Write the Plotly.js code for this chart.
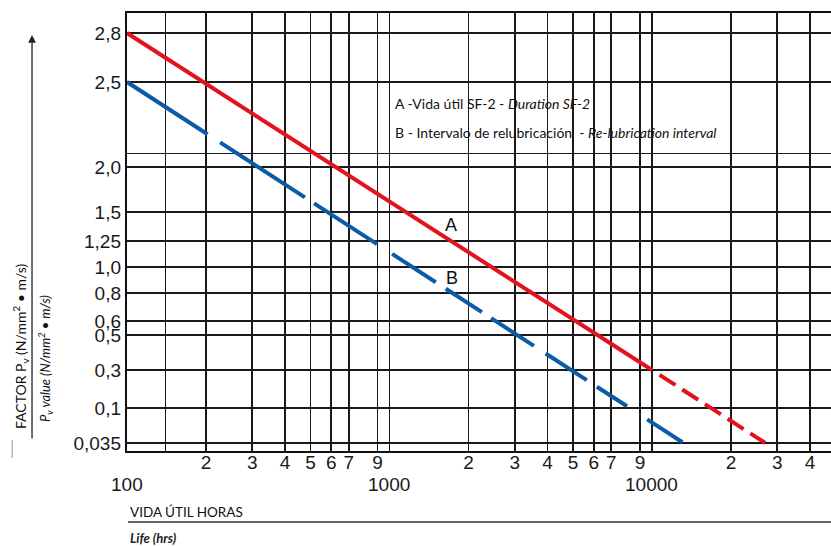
<!DOCTYPE html>
<html>
<head>
<meta charset="utf-8">
<script src="https://cdn.plot.ly/plotly-3.0.1.min.js"></script>
<style>html,body{margin:0;padding:0;background:#fff;}#chart{width:831px;height:546px;}</style>
</head>
<body>
<div id="chart"></div>
<script>
// ---------------- DATA ----------------
// Curve A: Vida útil SF-2 (solid up to 10000 h, dashed beyond)
const lifeHoursA = [100, 10000, 27000];
const pvA = [2.8, 0.3, 0.035];
// Curve B: Intervalo de relubricación
const lifeHoursB = [100, 13200];
const pvB = [2.5, 0.035];

// Y tick labels (printed non-uniform scale)
const yTickValues = [2.8, 2.5, 2.0, 1.5, 1.25, 1.0, 0.8, 0.6, 0.5, 0.3, 0.1, 0.035];
const yTickLabels = ['2,8', '2,5', '2,0', '1,5', '1,25', '1,0', '0,8', '0,6', '0,5', '0,3', '0,1', '0,035'];
const yUnlabeledGrid = [2.08];

// X ticks (log scale)
const xTickValues = [100, 140, 200, 300, 400, 500, 600, 700, 900, 1000, 2000, 3000, 4000, 5000, 6000, 7000, 9000, 10000, 20000, 30000, 40000];
const xTickLabels = ['', '', '2', '3', '4', '5', '6', '7', '9', '', '2', '3', '4', '5', '6', '7', '9', '', '2', '3', '4'];
const xDecadeValues = [100, 1000, 10000];
const xDecadeLabels = ['100', '1000', '10000'];

// ---------------- AXIS SCALE (the chart's printed, non-uniform Pv scale) ----------------
const scaleValues = [2.8, 2.5, 2.0, 1.5, 1.25, 1.0, 0.8, 0.6, 0.5, 0.3, 0.1, 0.035];
const scaleUnits  = [418, 369, 284, 239, 210, 184, 158, 130, 116, 81, 43, 8];
function yScale(v) {
  for (let i = 0; i < scaleValues.length - 1; i++) {
    const a = scaleValues[i], b = scaleValues[i + 1];
    if (v <= a && v >= b) {
      const t = (a - v) / (a - b);
      return scaleUnits[i] + t * (scaleUnits[i + 1] - scaleUnits[i]);
    }
  }
  return v > scaleValues[0] ? scaleUnits[0] : scaleUnits[scaleUnits.length - 1];
}

const RED = '#e2131c';
const BLUE = '#0c5ba6';

const traces = [
  { x: lifeHoursA.slice(0, 2), y: pvA.slice(0, 2).map(yScale), mode: 'lines',
    line: { color: RED, width: 4 } },
  { x: lifeHoursA.slice(1), y: pvA.slice(1).map(yScale), mode: 'lines',
    line: { color: RED, width: 4, dash: '0px,9px,19px,8px,19px,8px,19px,8px,19px,8px,19px,40px' } },
  { x: lifeHoursB, y: pvB.map(yScale), mode: 'lines',
    line: { color: BLUE, width: 4,
      dash: '96px,15px,101px,11px,75px,18px,52px,12px,43px,11px,51px,14px,49px,12px,36px,24px,42px,80px' } }
];

const yGridVals = yTickValues.concat(yUnlabeledGrid).map(yScale);
const yGridText = yTickLabels.concat(yUnlabeledGrid.map(() => ''));

const labelFont = { family: 'Liberation Sans, Arial, sans-serif', size: 19, color: '#1a1a1a' };
const titleFont = { family: 'Lato, sans-serif', size: 13.5, color: '#111' };

const annotations = [];
xDecadeValues.forEach((v, i) => {
  annotations.push({ x: Math.log10(v), xref: 'x', y: -0.077, yref: 'paper', text: xDecadeLabels[i],
    showarrow: false, xanchor: 'center', yanchor: 'middle', font: labelFont });
});
annotations.push(
  { x: 0.3778, xref: 'paper', y: 0.794, yref: 'paper', xanchor: 'left', yanchor: 'middle', showarrow: false,
    text: 'A -Vida útil SF-2 - <i>Duration SF-2</i>', font: { family: 'Lato, sans-serif', size: 14, color: '#111' } },
  { x: 0.3778, xref: 'paper', y: 0.728, yref: 'paper', xanchor: 'left', yanchor: 'middle', showarrow: false,
    text: 'B - Intervalo de relubricación\u00a0\u00a0- <i>Re-lubrication interval</i>', font: { family: 'Lato, sans-serif', size: 14, color: '#111' } },
  { x: Math.log10(1710), xref: 'x', y: 0.516, yref: 'paper', text: 'A', showarrow: false,
    xanchor: 'center', yanchor: 'middle',
    font: { family: 'Liberation Sans, Arial, sans-serif', size: 18, color: '#111' } },
  { x: Math.log10(1730), xref: 'x', y: 0.395, yref: 'paper', text: 'B', showarrow: false,
    xanchor: 'center', yanchor: 'middle',
    font: { family: 'Liberation Sans, Arial, sans-serif', size: 18, color: '#111' } },
  { x: -0.152, xref: 'paper', y: 0.2397, yref: 'paper', textangle: -90, showarrow: false,
    xanchor: 'center', yanchor: 'middle',
    text: 'FACTOR P<sub>v</sub> (N/mm<sup>2</sup> • m/s)', font: { family: 'Lato, sans-serif', size: 14, color: '#111' } },
  { x: -0.1165, xref: 'paper', y: 0.2123, yref: 'paper', textangle: -90, showarrow: false,
    xanchor: 'center', yanchor: 'middle',
    text: '<i>P<sub>v</sub> value (N/mm<sup>2</sup> • m/s)</i>', font: { family: 'Lato, sans-serif', size: 13, color: '#111' } },
  { x: 0.0014, xref: 'paper', y: -0.139, yref: 'paper', xanchor: 'left', yanchor: 'middle', showarrow: false,
    text: 'VIDA ÚTIL HORAS', font: titleFont },
  { x: 0.0014, xref: 'paper', y: -0.1986, yref: 'paper', xanchor: 'left', yanchor: 'middle', showarrow: false,
    text: '<i><b>Life (hrs)</b></i>', font: { family: 'Lato, sans-serif', size: 13, color: '#222' } },
  // vertical arrow on the y-title
  { x: -0.1349, xref: 'paper', y: 0.950, yref: 'paper', ax: 0, ay: 405, text: '', showarrow: true,
    arrowhead: 2, arrowsize: 1.2, arrowwidth: 1.3, arrowcolor: '#222' }
);

const shapes = [
  { type: 'rect', xref: 'paper', yref: 'paper', x0: 0.3707, x1: 0.8523, y0: 0.694, y1: 0.8196,
    fillcolor: '#ffffff', line: { width: 0 }, layer: 'between' },
  { type: 'line', xref: 'paper', yref: 'paper', x0: 0.0014, x1: 1, y0: -0.162, y1: -0.162,
    line: { color: '#333', width: 1.5 } },
  { type: 'line', xref: 'paper', yref: 'paper', x0: -0.163, x1: -0.163, y0: -0.016, y1: 0.025,
    line: { color: '#bbb', width: 1.5 } }
];

const layout = {
  width: 831, height: 546,
  margin: { l: 127, r: 0, t: 13, b: 95, pad: 0 },
  paper_bgcolor: '#fff', plot_bgcolor: '#fff',
  showlegend: false,
  hovermode: false,
  xaxis: {
    type: 'log', range: [2, 4.682],
    tickmode: 'array', tickvals: xTickValues, ticktext: xTickLabels,
    showgrid: true, gridcolor: '#1a1a1a', gridwidth: 1.7,
    showline: true, linecolor: '#111', linewidth: 2.2, mirror: true,
    ticks: '', zeroline: false, tickfont: labelFont, ticklabelstandoff: -7
  },
  yaxis: {
    type: 'linear', range: [0, 438],
    tickmode: 'array', tickvals: yGridVals, ticktext: yGridText,
    showgrid: true, gridcolor: '#1a1a1a', gridwidth: 1.7,
    showline: true, linecolor: '#111', linewidth: 2.2,
    ticks: '', zeroline: false, tickfont: labelFont
  },
  annotations: annotations,
  shapes: shapes
};

Plotly.newPlot('chart', traces, layout, { staticPlot: true, displayModeBar: false });
</script>
</body>
</html>
